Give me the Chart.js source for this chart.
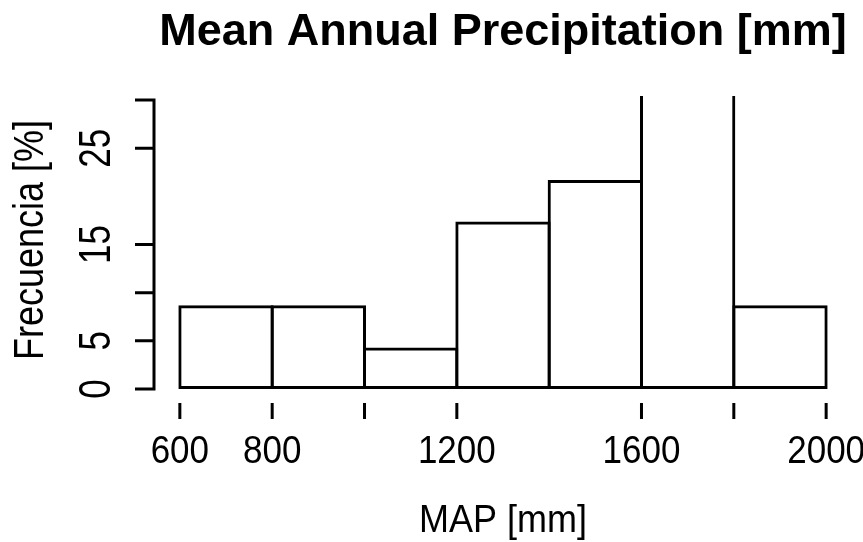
<!DOCTYPE html>
<html>
<head>
<meta charset="utf-8">
<title>Mean Annual Precipitation [mm]</title>
<script src="https://cdn.jsdelivr.net/npm/chart.js@4.4.1/dist/chart.umd.min.js"></script>
<style>
  html, body { margin:0; padding:0; background:#fff; }
  #wrap { width:863px; height:542px; }
</style>
</head>
<body>
<div id="wrap"><canvas id="histo"></canvas></div>
<script>
// histogramme type R : bornes des classes (mm) et fréquences (%)
const binEdges = [600, 800, 1000, 1200, 1400, 1600, 1800, 2000];
const freqPct  = [8.7, 8.7, 4.3, 17.4, 21.7, 34.8, 8.7];

// graduations telles qu'affichées (R saute certains libellés)
const xTicks      = [600, 800, 1000, 1200, 1600, 1800, 2000];
const xTickLabels = ['600', '800', '', '1200', '1600', '', '2000'];
const yTicks      = [0, 5, 10, 15, 25, 30];
const yTickLabels = ['0', '5', '', '15', '25', ''];

const FONT = "'Liberation Sans', Arial, sans-serif";

// un point par classe, centré sur la classe
const points = freqPct.map((v, i) => ({ x: (binEdges[i] + binEdges[i + 1]) / 2, y: v }));

// texte (éventuellement pivoté) avec un léger étirement vertical des glyphes
function drawText(ctx, txt, x, y, rot, stretch){
  ctx.save();
  ctx.translate(x, y);
  if (rot) ctx.rotate(-Math.PI / 2);
  ctx.scale(1, stretch);
  ctx.fillText(txt, 0, 0);
  ctx.restore();
}

// axes façon graphics::axis() : ligne limitée aux graduations, décalée du cadre
const rAxes = {
  id: 'rAxes',
  afterDraw(chart){
    const { ctx, chartArea: a, scales: { x, y } } = chart;
    ctx.save();
    ctx.strokeStyle = '#000';
    ctx.fillStyle = '#000';
    ctx.lineWidth = 3;

    // axe Y
    const yTop = y.getPixelForValue(yTicks[yTicks.length - 1]);
    const yBot = y.getPixelForValue(yTicks[0]);
    ctx.beginPath();
    ctx.moveTo(a.left, yTop - 1.5); ctx.lineTo(a.left, yBot + 1.5);
    yTicks.forEach(v => {
      const py = y.getPixelForValue(v);
      ctx.moveTo(a.left, py); ctx.lineTo(a.left - 19, py);
    });
    // graduations X (pas de ligne d'axe dans l'original)
    xTicks.forEach(v => {
      const px = x.getPixelForValue(v);
      ctx.moveTo(px, a.bottom + 2); ctx.lineTo(px, a.bottom + 18);
    });
    ctx.stroke();

    ctx.textAlign = 'center';
    ctx.textBaseline = 'middle';
    ctx.font = `35px ${FONT}`;
    xTicks.forEach((v, i) => {
      if (xTickLabels[i]) drawText(ctx, xTickLabels[i], x.getPixelForValue(v), a.bottom + 51, false, 1.12);
    });
    yTicks.forEach((v, i) => {
      if (yTickLabels[i]) drawText(ctx, yTickLabels[i], 98, y.getPixelForValue(v), true, 1.25);
    });

    ctx.font = `36px ${FONT}`;
    drawText(ctx, 'MAP [mm]', (a.left + a.right) / 2, a.bottom + 120, false, 1.06);
    drawText(ctx, 'Frecuencia [%]', 31, 240, true, 1.2);
    ctx.restore();
  }
};

new Chart(document.getElementById('histo'), {
  type: 'bar',
  data: {
    datasets: [{
      data: points,
      backgroundColor: 'rgba(0,0,0,0)',
      borderColor: '#000',
      borderWidth: 3,
      borderSkipped: false,
      barPercentage: 1.0325,   // +3px pour que les bords voisins se superposent
      categoryPercentage: 1,
      clip: 0
    }]
  },
  options: {
    responsive: true,
    maintainAspectRatio: false,
    animation: false,
    events: [],
    layout: { padding: { left: 154, right: 11, top: 0, bottom: 141 } },
    plugins: {
      legend: { display: false },
      tooltip: { enabled: false },
      title: {
        display: true,
        text: 'Mean Annual Precipitation [mm]',
        color: '#000',
        font: { family: FONT, size: 45, weight: 'bold' },
        padding: { top: 6, bottom: 36 }
      }
    },
    scales: {
      x: { type: 'linear', offset: false, min: 544, max: 2056, display: false },
      y: { min: -1.25, max: 30.42, display: false }
    }
  },
  plugins: [rAxes]
});
</script>
</body>
</html>
